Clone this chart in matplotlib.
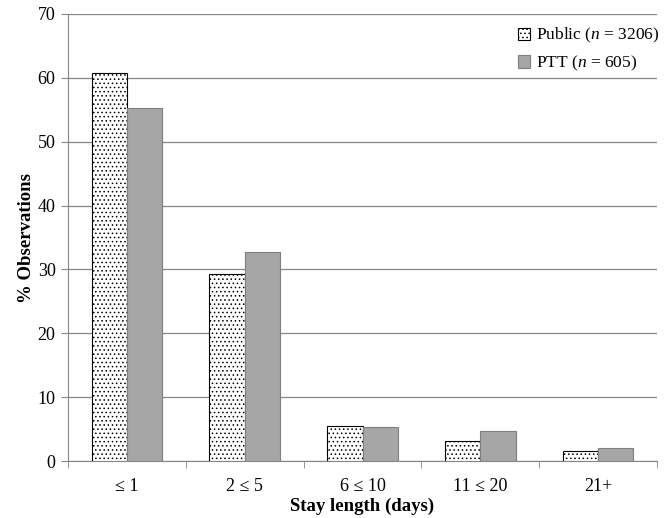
import matplotlib
matplotlib.use("Agg")
import matplotlib.pyplot as plt
import numpy as np

categories = ["\u2264 1", "2 \u2264 5", "6 \u2264 10", "11 \u2264 20", "21+"]
public = [60.7, 29.3, 5.5, 3.1, 1.5]
ptt = [55.3, 32.7, 5.3, 4.7, 2.0]
series_labels = ["Public ($n$ = 3206)", "PTT ($n$ = 605)"]
yticks = [0, 10, 20, 30, 40, 50, 60, 70]

plt.rcParams['font.family'] = ['Liberation Serif', 'DejaVu Serif']
plt.rcParams['mathtext.fontset'] = 'custom'
plt.rcParams['mathtext.it'] = 'Liberation Serif:italic'
plt.rcParams['mathtext.rm'] = 'Liberation Serif'
plt.rcParams['hatch.linewidth'] = 0.6
plt.rcParams['hatch.color'] = '#555555'

fig = plt.figure(figsize=(6.67, 5.18), dpi=100)
ax = fig.add_axes([0.102, 0.110, 0.883, 0.863])

x = np.arange(len(categories))
w = 0.3
ax.bar(x - w/2, public, w, color='white', edgecolor='black', linewidth=0.8,
       hatch='....', label=series_labels[0], zorder=3)
ax.bar(x + w/2, ptt, w, color='#A6A6A6', edgecolor='#7F7F7F', linewidth=0.8,
       label=series_labels[1], zorder=3)

ax.set_xlim(-0.5, len(categories) - 0.5)
ax.set_ylim(0, 70)
ax.set_yticks(yticks)
ax.yaxis.grid(True, color='#868686', linewidth=0.9, zorder=0)
ax.set_axisbelow(True)

ax.set_xticks(x)
ax.set_xticklabels(categories, fontsize=13)
ax.tick_params(axis='x', length=0, pad=12)
ax.set_xticks(np.arange(-0.5, len(categories) + 0.5, 1), minor=True)
ax.tick_params(axis='x', which='minor', length=5, color='#868686', direction='out')
ax.tick_params(axis='y', length=5, color='#868686', direction='out', labelsize=13, pad=4)

for s in ['top', 'right']:
    ax.spines[s].set_visible(False)
ax.spines['left'].set_color('#868686')
ax.spines['bottom'].set_color('#868686')

ax.set_xlabel("Stay length (days)", fontsize=13.5, fontweight='bold', labelpad=2)
ax.set_ylabel("% Observations", fontsize=13.5, fontweight='bold', labelpad=2)

ax.legend(loc='upper right', frameon=False, fontsize=12.5, handlelength=0.7,
          handleheight=0.7, handletextpad=0.35, borderaxespad=0.3,
          labelspacing=0.5, bbox_to_anchor=(1.025, 1.0))

fig.savefig("out.png", dpi=100)
